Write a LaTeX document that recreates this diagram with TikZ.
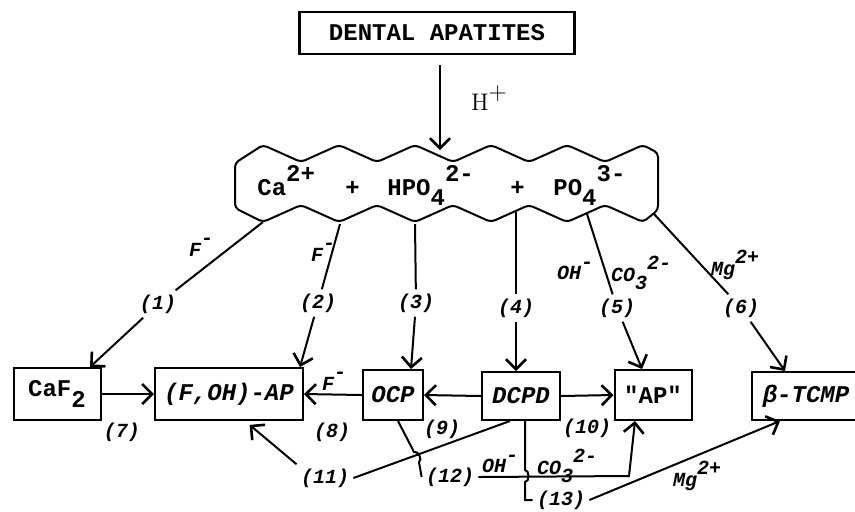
\documentclass[tikz,border=0pt]{standalone}
\usepackage{fontspec}
\setmonofont{Liberation Mono}
\usepackage{tikz}
\usetikzlibrary{arrows.meta, positioning, calc}

\newcommand{\ionhi}[1]{\raisebox{1.1ex}{#1}}
\newcommand{\ionlo}[1]{\raisebox{-0.8ex}{#1}}

\begin{document}
\begin{tikzpicture}[
        x=0.5pt, y=-0.5pt,
        >={Straight Barb[length=5pt, width=10pt, line width=1.3pt]},
        % Styles for nodes
        phase/.style={
            draw, line width=1pt, inner sep=2pt,
            minimum height=25pt,
            font=\ttfamily\bfseries\fontsize{12}{14}\selectfont
        },
        ion/.style={
            inner sep=0pt, anchor=base west,
            font=\ttfamily\bfseries\fontsize{12}{14}\selectfont
        },
        numlab/.style={
            inner sep=2pt,
            font=\ttfamily\bfseries\itshape\fontsize{10}{12}\selectfont
        },
        agent/.style={
            inner sep=1pt,
            font=\ttfamily\bfseries\itshape\fontsize{10}{12}\selectfont
        },
        % Style for connecting lines
        conn/.style={draw, line width=1pt},
        arr/.style={conn, ->}
    ]

    \useasboundingbox (0,0) rectangle (855,511);
    \clip (0,0) rectangle (855,511);

    % 1. SOURCE AND DISSOLVED IONS
    \node[phase, line width=1.2pt, minimum width=137.5pt, minimum height=21pt]
        (title) at (437,33) {DENTAL APATITES};
    \coordinate (Htip) at (440,150);
    \draw[arr] ([xshift=1.5pt, yshift=-5pt]title.south) -- (Htip);
    \node[font=\fontsize{12}{14}\selectfont] (Hion) at (489,98) {H\ionhi{+}};

    \draw[line width=1pt, rounded corners=2pt]
        (235,163) -- (263,145)
        \foreach \i in {0,...,4} { -- ({301+76*\i},162) -- ({339+76*\i},145) }
        -- (658,153) -- (658,210) -- (643,222)
        \foreach \i in {4,...,0} { -- ({301+76*\i},205) -- ({263+76*\i},222) }
        -- (235,208) -- cycle;

    \node[ion] (Ca)  at (257,195) {Ca\ionhi{2+}};
    \node[ion] (pl1) at (345,195) {+};
    \node[ion] (HPO) at (387,195) {HPO\ionlo{4}\ionhi{2-}};
    \node[ion] (pl2) at (510,195) {+};
    \node[ion] (PO)  at (553,195) {PO\ionlo{4}\ionhi{3-}};

    \coordinate (s1) at (263,222);
    \coordinate (s2) at (340,224);
    \coordinate (s3) at (415,224);
    \coordinate (s4) at (516,212);
    \coordinate (s5) at (587,214);
    \coordinate (s6) at (654,214);

    % 2. SOLID PHASES
    \node[phase, minimum width=43.5pt, minimum height=26pt] (CaF)  at (57,394)  {CaF\ionlo{2}};
    \node[phase, minimum width=74pt, minimum height=26pt, font=\ttfamily\bfseries\itshape\fontsize{12}{14}\selectfont]
        (FAP) at (229,394) {(F,OH)-AP};
    \node[phase, minimum width=30pt, font=\ttfamily\bfseries\itshape\fontsize{12}{14}\selectfont]
        (OCP) at (393,395) {OCP};
    \node[phase, minimum width=39pt, minimum height=24pt, font=\ttfamily\bfseries\itshape\fontsize{12}{14}\selectfont]
        (DCPD) at (521,396) {DCPD};
    \node[phase, minimum width=38.5pt] (AP) at (653,395) {"AP"};
    \node[phase, minimum width=54pt, minimum height=24pt, font=\ttfamily\bfseries\itshape\fontsize{12}{14}\selectfont]
        (TCMP) at (806,396) {β-TCMP};

    % 3. PRECIPITATION PATHS (1)-(6)
    \node[numlab] (L1) at (158,304) {(1)};
    \node[numlab] (L2) at (318,303) {(2)};
    \node[numlab] (L3) at (416,303) {(3)};
    \node[numlab] (L4) at (516,308) {(4)};
    \node[numlab] (L5) at (617,308) {(5)};
    \node[numlab] (L6) at (741,308) {(6)};

    \draw[conn] (s1) -- (L1);
    \draw[conn] (s2) -- (L2);
    \draw[conn] (s3) -- (L3);
    \draw[conn] (s4) -- (L4);
    \draw[conn] (s5) -- (L5);
    \draw[conn] (s6) -- (L6);

    \draw[arr] (L1) -- ([xshift=16.5pt]CaF.north);
    \draw[arr] (L2) -- ([xshift=-2pt]FAP.north east);
    \draw[arr] (L3) -- ([xshift=9pt]OCP.north);
    \draw[arr] (L4) -- ([xshift=-2.5pt]DCPD.north);
    \draw[arr] (L5) -- ([xshift=-5.5pt]AP.north);
    \draw[arr] (L6) -- ([xshift=-10.5pt]TCMP.north);

    \node[agent] (F1)   at (201,247) {F\ionhi{-}};
    \node[agent] (F2)   at (323,252) {F\ionhi{-}};
    \node[agent] (OH5)  at (575,271) {OH\ionhi{-}};
    \node[agent] (CO5)  at (641,273) {CO\ionlo{3}\ionhi{2-}};
    \node[agent] (Mg6)  at (735,265) {Mg\ionhi{2+}};

    % 4. TRANSFORMATIONS (7)-(13)
    \draw[arr] (CaF.east)  -- (FAP.west);
    \draw[arr] (OCP.west)  -- (FAP.east);
    \draw[arr] (DCPD.west) -- (OCP.east);
    \draw[arr] (DCPD.east) -- (AP.west);

    \node[numlab] (L7)  at (122,432) {(7)};
    \node[numlab] (L8)  at (332,432) {(8)};
    \node[numlab] (L9)  at (442,429) {(9)};
    \node[numlab] (L10) at (587,428) {(10)};
    \node[numlab] (L11) at (325,478) {(11)};
    \node[numlab] (L12) at (450,477) {(12)};
    \node[numlab] (L13) at (561,500) {(13)};

    \node[agent] (F8) at (334,381) {F\ionhi{-}};

    % (11) DCPD -> (F,OH)-AP
    \draw[conn] ([xshift=-5.5pt]DCPD.south) -- (L11.east);
    \draw[arr, shorten >=3pt] (L11.north west) -- ([xshift=8pt]FAP.south);

    % (12) OCP -> "AP", hopping over (11)
    \coordinate (h12a) at (414,452);
    \coordinate (h12b) at (419,462);
    \coordinate (c12)  at (629,476);
    \draw[conn] ([xshift=2.5pt]OCP.south) -- (h12a) to[bend left=90] (h12b) -- (L12.west);
    \draw[arr] (L12.east) -- (c12) -- ([xshift=-9pt]AP.south);
    \node[agent] (OH12) at (500,464) {OH\ionhi{-}};
    \node[agent] (CO12) at (567,466) {CO\ionlo{3}\ionhi{2-}};

    % (13) DCPD -> beta-TCMP, hopping over (12)
    \coordinate (h13a) at (525,470);
    \coordinate (h13b) at (525,482);
    \coordinate (c13)  at (525,500);
    \draw[conn] ([xshift=2pt]DCPD.south) -- (h13a) to[bend left=90] (h13b) -- (c13) -- (L13.west);
    \draw[arr] (L13.east) -- ([xshift=-13pt]TCMP.south);
    \node[agent] (Mg13) at (697,476) {Mg\ionhi{2+}};

\end{tikzpicture}
\end{document}
